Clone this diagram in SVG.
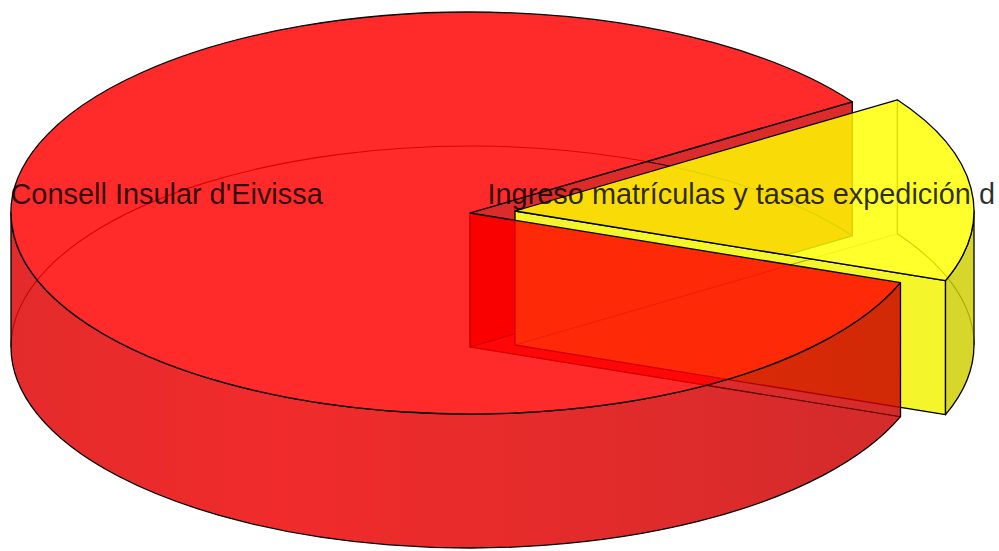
<svg xmlns="http://www.w3.org/2000/svg" width="999" height="551" viewBox="0 0 999 551">
  <style>
    .edge { stroke: #000; stroke-width: 1.3; stroke-linejoin: round; }
    .hid { fill: none; stroke: #000; stroke-width: 1.1; }
    .red { fill: #FF0000; fill-opacity: 0.83; }
    .redcut { fill: #D50000; fill-opacity: 0.83; }
    .ytop { fill: #FFFF00; fill-opacity: 0.83; }
    .yside { fill: #CFCF00; fill-opacity: 0.83; }
    .yface { fill: #F5F52C; }
    .lbl { font-family: "Liberation Sans", Arial, sans-serif; font-size: 28.9px; fill: #000; fill-opacity: 0.82; }
  </style>
  <defs>
    <linearGradient id="redSide" gradientUnits="userSpaceOnUse" x1="11" y1="0" x2="900" y2="0">
      <stop offset="0" stop-color="#DE0000"/>
      <stop offset="0.3" stop-color="#EE0000"/>
      <stop offset="0.6" stop-color="#E00000"/>
      <stop offset="1" stop-color="#CA0000"/>
    </linearGradient>
    <clipPath id="redTopClip">
      <path d="M470,213 L900.5,282.7 A459,201 0 1 1 852.3,101.8 Z"/>
    </clipPath>
  </defs>
  <rect width="999" height="551" fill="#FFFFFF"/>

  <!-- hidden / back faces of the Consell Insular slice -->
  <g id="slice-consell-back">
    <path class="red" clip-path="url(#redTopClip)" d="M470,213 L900.5,282.7 L900.5,416.7 L470,347 Z"/>
    <path class="redcut edge" d="M470,213 L852.3,101.8 L852.3,235.8 L470,347 Z"/>
    <path class="hid" d="M470,213 L470,347 L900.5,416.7 L900.5,282.7"/>
    <path class="hid" stroke-opacity="0.9" d="M11,347 A459,201 0 0 1 852.3,235.8"/>
  </g>

  <!-- Ingreso slice (exploded) -->
  <g id="slice-ingreso">
    <path class="hid" d="M897.3,99.8 L897.3,233.8 M897.3,233.8 A459,201 0 0 1 974,345"/>
    <path class="yface edge" d="M515,211 L945.5,280.7 L945.5,414.7 L515,345 Z"/>
    <path class="hid" stroke-opacity="0.3" d="M515,345 L897.3,233.8"/>
    <path class="yside edge" d="M945.5,280.7 A459,201 0 0 0 974,211 L974,345 A459,201 0 0 1 945.5,414.7 Z"/>
    <path class="ytop edge" d="M515,211 L897.3,99.8 A459,201 0 0 1 945.5,280.7 Z"/>
  </g>

  <!-- Consell Insular slice front faces -->
  <g id="slice-consell">
    <path class="edge" fill="url(#redSide)" fill-opacity="0.83" d="M900.5,282.7 A459,201 0 0 1 11,213 L11,347 A459,201 0 0 0 900.5,416.7 Z"/>
    <path class="hid" stroke-opacity="0.5" d="M470,347 L900.5,416.7"/>
    <path class="red edge" d="M470,213 L900.5,282.7 A459,201 0 1 1 852.3,101.8 Z"/>
  </g>

  <g id="labels">
    <text class="lbl" x="10.5" y="204">Consell Insular d'Eivissa</text>
    <text class="lbl" x="487.5" y="204">Ingreso matrículas y tasas expedición d</text>
  </g>
</svg>
